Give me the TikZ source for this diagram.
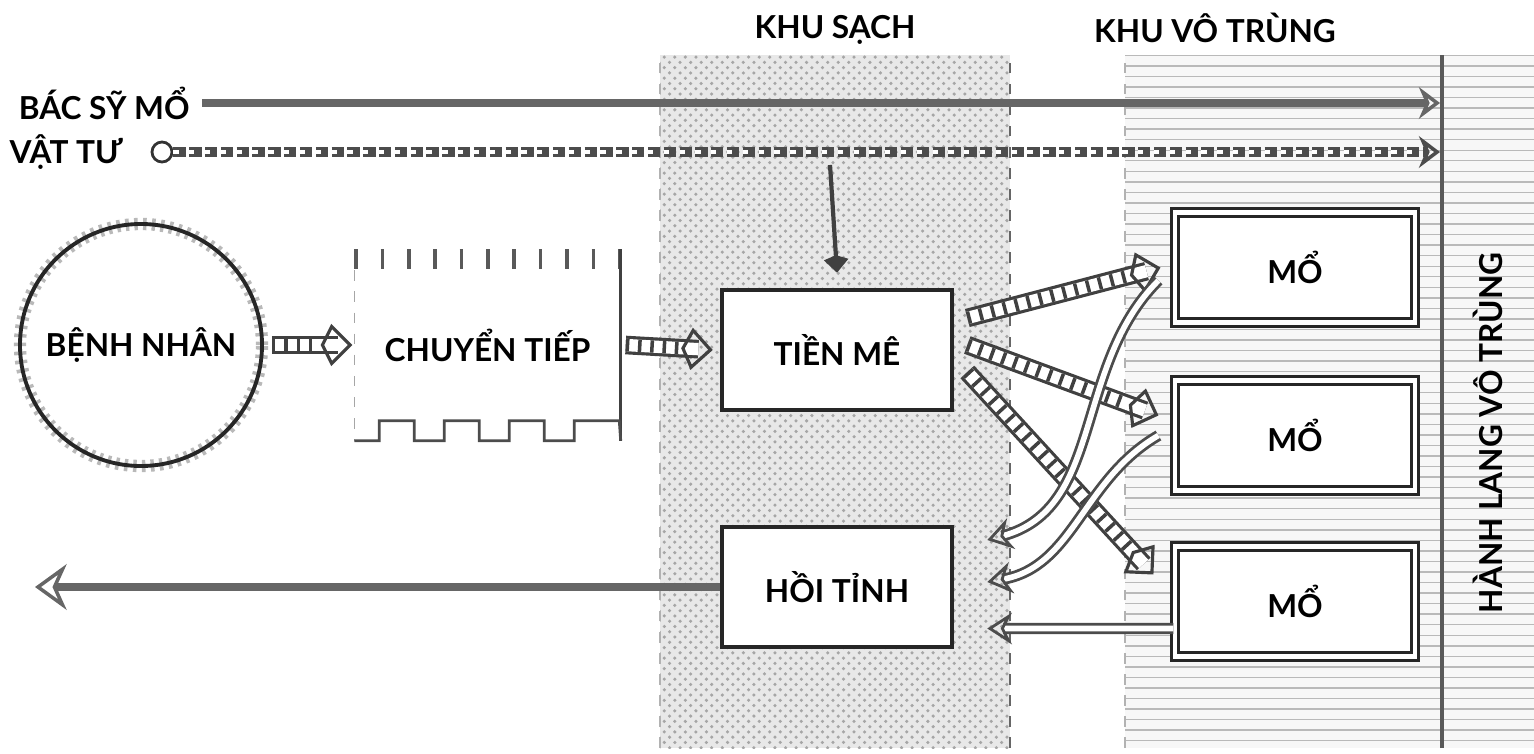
\documentclass[tikz,border=0pt]{standalone}
\usepackage{fontspec}
\setmainfont{Lato}
\usetikzlibrary{arrows.meta,patterns,positioning,calc}

\begin{document}
\begin{tikzpicture}[x=1cm,y=1cm,
  room/.style={draw=black!85, line width=1.3pt, fill=white, minimum width=2.3cm, minimum height=1.2cm},
  theatre/.style={draw=black!85, double=white, double distance=1.2pt, line width=0.9pt, fill=white, minimum width=2.4cm, minimum height=1.1cm},
  ladder/.style={draw=black!75, line width=0.9pt, double=white, double distance=3.5pt, -{Kite[open,length=9pt,width=12pt,inset=3pt]},
    postaction={draw=black!75, arrows=-, shorten >=9pt, line width=3.5pt, dash pattern=on 1pt off 2.5pt}},
  backflow/.style={draw=black!70, line width=0.8pt, double=white, double distance=1.6pt, -{Stealth[open,length=7pt,width=9pt]}},
  doctor/.style={draw=black!60, line width=2.2pt, -{Stealth[open,length=6pt,width=9pt,line width=1pt]}},
  supply/.style={draw=black!70, line width=3pt, dash pattern=on 3.5pt off 1pt, -{Stealth[open,length=6pt,width=9pt,line width=1pt]},
    postaction={draw=white, arrows=-, shorten >=8pt, line width=1.2pt, dash pattern=on 1.5pt off 3pt}}
]
\tikzstyle{every node}=[font=\small\bfseries]
\useasboundingbox (0,0) rectangle (15.34,7.53);

\fill[gray!18] (6.60,0.05) rectangle (10.10,6.98);
\fill[pattern=crosshatch dots, pattern color=gray!70] (6.60,0.05) rectangle (10.10,6.98);
\draw[gray!60, dashed] (6.60,0.05) -- (6.60,6.98);
\draw[black!60, dashed, thick] (10.10,0.05) -- (10.10,6.98);
\fill[gray!6] (11.25,0.05) rectangle (15.34,6.98);
\fill[pattern=horizontal lines, pattern color=gray!55] (11.25,0.05) rectangle (15.34,6.98);
\draw[gray!60, dashed] (11.25,0.05) -- (11.25,6.98);
\draw[black!65, line width=1pt] (14.42,0.05) -- (14.42,6.98);

\node (sach) at (8.35,7.23) {KHU SẠCH};
\node (votrung) at (12.15,7.25) {KHU VÔ TRÙNG};
\node[anchor=east] (bacsy) at (2.02,6.50) {BÁC SỸ MỔ};
\node[anchor=east] (vattu) at (1.35,6.01) {VẬT TƯ};
\node[circle, draw=black!80, thick, minimum size=0.2cm, inner sep=0pt] (vtstart) at (1.62,6.01) {};
\coordinate (bsend) at (14.40,6.50);
\coordinate (vtend) at (14.40,6.01);
\coordinate (vtdrop) at (8.30,5.88);
\coordinate (exit) at (0.35,1.66);

\node[circle, draw=black!85, line width=1.1pt, minimum size=2.42cm,
  preaction={draw=gray!55, line width=3.5pt, dash pattern=on 1pt off 1.5pt}] (benhnhan) at (1.41,4.08) {BỆNH NHÂN};
\node[minimum width=2.65cm, minimum height=1.9cm] (chuyentiep) at (4.875,4.08) {CHUYỂN TIẾP};
\node[room] (tienme) at (8.37,4.03) {TIỀN MÊ};
\node[room] (hoitinh) at (8.37,1.66) {HỒI TỈNH};
\node[theatre] (mo1) at (12.95,4.855) {MỔ};
\node[theatre] (mo2) at (12.95,3.175) {MỔ};
\node[theatre] (mo3) at (12.95,1.515) {MỔ};
\node[rotate=90] (hanhlang) at (14.88,3.20) {HÀNH LANG VÔ TRÙNG};

\draw[gray!70, dashed] (chuyentiep.north west) -- (chuyentiep.south west);
\draw[black!65, line width=0.2cm, dash pattern=on 1pt off 6.5pt] ([yshift=-0.1cm]chuyentiep.north west) -- ([yshift=-0.1cm]chuyentiep.north east);
\draw[black!75, thick] (chuyentiep.north east) -- (chuyentiep.south east);
\draw[black!70, thick] (chuyentiep.south west) -- ++(0.25,0) -- ++(0,0.2) -- ++(0.35,0) -- ++(0,-0.2)
  -- ++(0.3,0) -- ++(0,0.2) -- ++(0.35,0) -- ++(0,-0.2) -- ++(0.3,0) -- ++(0,0.2) -- ++(0.35,0)
  -- ++(0,-0.2) -- ++(0.3,0) -- ++(0,0.2) -- ++(0.45,0) -- (chuyentiep.south east);

\draw[doctor] (bacsy.east) -- (bsend);
\draw[supply] (vtstart.east) -- (vtend);
\draw[black!75, line width=1.2pt, -{Kite[length=5pt,width=7pt]}] (vtdrop) -- ([yshift=0.15cm]tienme.north);

\draw[ladder] ([xshift=0.08cm]benhnhan.east) -- ([xshift=-0.02cm]chuyentiep.west);
\draw[ladder] ([xshift=0.05cm]chuyentiep.east) -- ([xshift=-0.07cm]tienme.west);
\draw[ladder] ([xshift=0.13cm,yshift=0.32cm]tienme.east) -- ([xshift=-0.13cm]mo1.west);
\draw[ladder] ([xshift=0.13cm,yshift=0.05cm]tienme.east) -- ([xshift=-0.15cm,yshift=0.2cm]mo2.west);
\draw[ladder] ([xshift=0.13cm,yshift=-0.22cm]tienme.east) -- ([xshift=-0.2cm,yshift=0.27cm]mo3.west);

\draw[backflow] ([xshift=-0.15cm,yshift=-0.13cm]mo1.west) to[out=225,in=15] ([xshift=0.33cm,yshift=0.47cm]hoitinh.east);
\draw[backflow] ([xshift=-0.15cm]mo2.west) to[out=210,in=10] ([xshift=0.33cm,yshift=0.05cm]hoitinh.east);
\draw[backflow] ([yshift=-0.27cm]mo3.west) -- ([xshift=0.33cm,yshift=-0.415cm]hoitinh.east);

\draw[draw=black!60, line width=2.4pt, -{Stealth[open,length=9pt,width=13pt,line width=1pt]}] (hoitinh.west) -- (exit);
\end{tikzpicture}
\end{document}
